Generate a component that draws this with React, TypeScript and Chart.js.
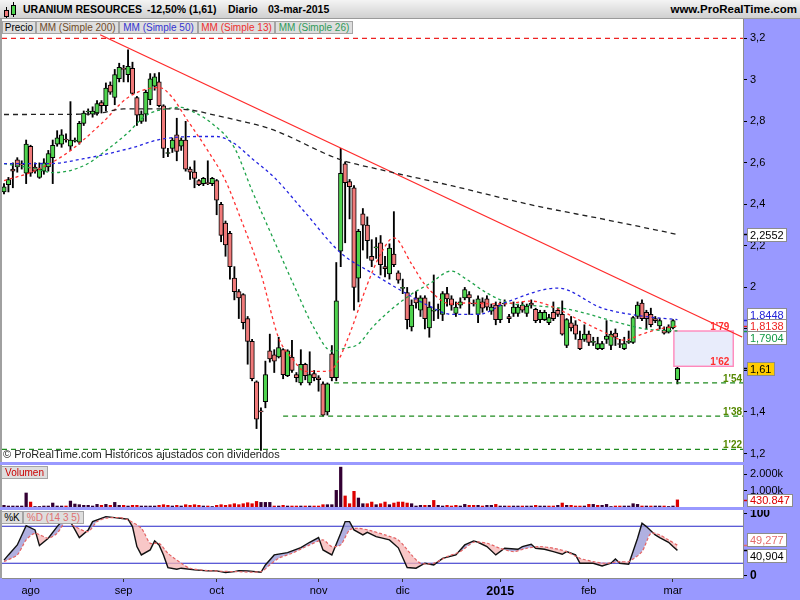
import React, { useEffect, useRef } from "react";
import { Chart, registerables } from "chart.js";

Chart.register(...registerables);

const FONT = '"Liberation Sans", Arial, Helvetica, sans-serif';
Chart.defaults.font.family = FONT;

// ---------------- DATA ----------------
const opens = [
  2.46, 2.495, 2.57, 2.615, 2.595, 2.55, 2.68, 2.58, 2.53, 2.56,
  2.58, 2.625, 2.69, 2.69, 2.715, 2.68, 2.705, 2.70, 2.79, 2.845,
  2.835, 2.84, 2.89, 2.875, 2.975, 2.915, 3.005, 3.055, 3.025, 3.055,
  2.915, 2.80, 2.835, 2.905, 2.97, 2.99, 2.875, 2.645, 2.67, 2.735,
  2.68, 2.71, 2.57, 2.555, 2.515, 2.50, 2.505, 2.50, 2.515, 2.40,
  2.31, 2.26, 2.045, 1.98, 1.965, 1.85, 1.74, 1.545, 1.405, 1.45,
  1.695, 1.675, 1.665, 1.70, 1.575, 1.665, 1.58, 1.54, 1.63, 1.54,
  1.585, 1.565, 1.535, 1.40, 1.68, 1.565, 2.175, 2.595, 2.51, 2.48,
  2.045, 2.355, 2.30, 2.15, 2.19, 2.215, 2.10, 2.065, 2.16, 2.07,
  1.995, 1.975, 1.81, 1.95, 1.89, 1.95, 1.805, 1.885, 1.89, 1.87,
  1.97, 1.945, 1.875, 1.915, 1.95, 1.965, 1.925, 1.87, 1.93, 1.945,
  1.885, 1.915, 1.845, 1.92, 1.86, 1.875, 1.875, 1.915, 1.875, 1.925,
  1.895, 1.845, 1.845, 1.83, 1.88, 1.89, 1.87, 1.72, 1.83, 1.82,
  1.75, 1.75, 1.775, 1.735, 1.705, 1.705, 1.75, 1.72, 1.78, 1.73,
  1.705, 1.735, 1.735, 1.86, 1.925, 1.88, 1.87, 1.85, 1.815, 1.795,
  1.785, 1.805, 1.555,
];
const highs = [
  2.50, 2.53, 2.60, 2.625, 2.61, 2.71, 2.685, 2.60, 2.60, 2.62,
  2.66, 2.71, 2.755, 2.76, 2.74, 2.895, 2.72, 2.80, 2.85, 2.86,
  2.87, 2.90, 2.90, 2.985, 2.99, 3.05, 3.08, 3.07, 3.145, 3.085,
  2.92, 2.85, 2.95, 3.03, 3.03, 3.035, 2.88, 2.67, 2.72, 2.815,
  2.72, 2.80, 2.58, 2.61, 2.52, 2.53, 2.61, 2.53, 2.52, 2.41,
  2.32, 2.27, 2.10, 1.99, 1.97, 1.86, 1.75, 1.55, 1.42, 1.645,
  1.775, 1.70, 1.76, 1.705, 1.70, 1.745, 1.59, 1.70, 1.635, 1.69,
  1.60, 1.575, 1.545, 1.54, 1.72, 2.12, 2.67, 2.605, 2.52, 2.49,
  2.28, 2.38, 2.34, 2.23, 2.24, 2.25, 2.15, 2.21, 2.365, 2.08,
  2.04, 2.00, 1.94, 1.98, 1.96, 1.96, 1.93, 2.06, 1.92, 1.98,
  2.00, 1.96, 1.93, 1.95, 2.00, 1.98, 1.94, 1.96, 1.95, 1.96,
  1.92, 1.93, 1.93, 1.94, 1.87, 1.93, 1.92, 1.93, 1.92, 1.94,
  1.90, 1.89, 1.89, 1.87, 1.93, 1.90, 1.935, 1.85, 1.86, 1.84,
  1.79, 1.82, 1.79, 1.76, 1.76, 1.74, 1.84, 1.79, 1.80, 1.75,
  1.76, 1.79, 1.86, 1.93, 1.94, 1.89, 1.90, 1.86, 1.85, 1.81,
  1.82, 1.845, 1.615,
];
const lows = [
  2.45, 2.46, 2.48, 2.555, 2.57, 2.50, 2.535, 2.55, 2.525, 2.545,
  2.56, 2.50, 2.68, 2.675, 2.70, 2.66, 2.70, 2.69, 2.78, 2.83,
  2.82, 2.83, 2.84, 2.85, 2.93, 2.88, 2.99, 2.99, 2.99, 2.93,
  2.78, 2.79, 2.80, 2.88, 2.95, 2.87, 2.625, 2.63, 2.65, 2.61,
  2.66, 2.56, 2.52, 2.48, 2.49, 2.49, 2.495, 2.49, 2.35, 2.22,
  2.15, 2.04, 1.94, 1.85, 1.80, 1.63, 1.55, 1.32, 1.215, 1.42,
  1.64, 1.59, 1.66, 1.56, 1.57, 1.59, 1.545, 1.53, 1.555, 1.53,
  1.55, 1.50, 1.38, 1.385, 1.55, 1.55, 2.10, 2.215, 2.33, 1.89,
  1.93, 2.18, 2.14, 2.10, 2.14, 2.06, 2.05, 2.04, 2.10, 2.02,
  1.97, 1.80, 1.79, 1.90, 1.86, 1.80, 1.76, 1.84, 1.85, 1.84,
  1.91, 1.89, 1.86, 1.90, 1.94, 1.87, 1.91, 1.83, 1.88, 1.89,
  1.87, 1.82, 1.83, 1.91, 1.83, 1.86, 1.86, 1.88, 1.86, 1.90,
  1.83, 1.83, 1.84, 1.82, 1.84, 1.86, 1.77, 1.71, 1.79, 1.75,
  1.70, 1.74, 1.72, 1.72, 1.70, 1.70, 1.73, 1.70, 1.72, 1.71,
  1.70, 1.73, 1.73, 1.85, 1.84, 1.80, 1.81, 1.83, 1.80, 1.775,
  1.78, 1.80, 1.535,
];
const closes = [
  2.485, 2.52, 2.56, 2.58, 2.59, 2.69, 2.55, 2.56, 2.57, 2.60,
  2.645, 2.685, 2.72, 2.735, 2.71, 2.71, 2.71, 2.79, 2.84, 2.85,
  2.85, 2.885, 2.875, 2.96, 2.94, 3.025, 3.06, 3.05, 3.065, 2.935,
  2.83, 2.835, 2.94, 3.005, 3.015, 2.875, 2.67, 2.65, 2.71, 2.655,
  2.71, 2.57, 2.555, 2.525, 2.495, 2.525, 2.50, 2.525, 2.42, 2.25,
  2.205, 2.10, 1.98, 1.95, 1.83, 1.74, 1.56, 1.365, 1.40, 1.58,
  1.655, 1.645, 1.71, 1.58, 1.695, 1.60, 1.565, 1.63, 1.575, 1.58,
  1.565, 1.555, 1.385, 1.535, 1.565, 1.935, 2.55, 2.505, 2.485, 2.00,
  2.27, 2.30, 2.225, 2.13, 2.195, 2.11, 2.09, 2.19, 2.11, 2.035,
  2.00, 1.845, 1.915, 1.925, 1.95, 1.85, 1.905, 1.89, 1.895, 1.97,
  1.945, 1.915, 1.905, 1.93, 1.99, 1.95, 1.92, 1.945, 1.90, 1.905,
  1.905, 1.845, 1.915, 1.925, 1.85, 1.905, 1.905, 1.89, 1.91, 1.915,
  1.84, 1.88, 1.88, 1.855, 1.85, 1.87, 1.775, 1.845, 1.805, 1.775,
  1.705, 1.775, 1.735, 1.74, 1.73, 1.73, 1.765, 1.775, 1.76, 1.725,
  1.73, 1.74, 1.855, 1.915, 1.85, 1.85, 1.82, 1.84, 1.84, 1.78,
  1.81, 1.84, 1.61,
];
// volume in thousands of shares
const volumesK = [
  100, 60, 60, 60, 60, 850, 300, 30, 30, 60,
  60, 240, 60, 60, 60, 360, 180, 140, 100, 100,
  60, 160, 100, 160, 100, 280, 100, 100, 60, 100,
  100, 60, 60, 60, 60, 100, 140, 100, 60, 100,
  60, 140, 100, 140, 100, 60, 60, 30, 100, 140,
  100, 140, 200, 140, 200, 260, 200, 340, 280, 280,
  280, 60, 60, 100, 60, 60, 60, 60, 60, 60,
  60, 60, 140, 140, 140, 1010, 2420, 670, 200, 950,
  545, 200, 200, 300, 140, 200, 300, 140, 240, 300,
  300, 240, 200, 60, 100, 100, 100, 400, 100, 60,
  100, 60, 100, 60, 160, 100, 100, 100, 60, 100,
  100, 160, 60, 60, 60, 60, 60, 60, 60, 60,
  100, 60, 60, 60, 60, 100, 240, 100, 100, 60,
  60, 60, 160, 160, 100, 100, 160, 30, 60, 60,
  60, 60, 200, 160, 60, 60, 60, 60, 60, 60,
  30, 60, 430.847,
];

// moving averages, sampled along their drawn paths (day index, value)
const ma200Idx = [0, 20, 27, 37, 42, 48, 53, 60, 76, 85, 101, 120, 135, 152];
const ma200 = [2.833, 2.835, 2.86, 2.86, 2.855, 2.828, 2.804, 2.765, 2.615, 2.567, 2.49, 2.393, 2.33, 2.2552];
const ma50Idx = [0, 10, 18, 29, 35, 44, 48, 52, 56, 61, 68, 76, 83, 91, 96, 101, 107, 114, 125, 135, 144, 152];
const ma50 = [2.596, 2.596, 2.62, 2.673, 2.712, 2.727, 2.727, 2.693, 2.62, 2.53, 2.36, 2.166, 2.07, 1.968, 1.91, 1.87, 1.87, 1.934, 1.997, 1.90, 1.862, 1.8448];
const ma13Idx = [0, 7, 14, 22, 28, 35, 38, 41, 46, 50, 53, 58, 62, 65, 68, 73, 75, 78, 82, 85, 88, 92, 95, 101, 104, 112, 119, 125, 129, 135, 140, 144, 148, 152];
const ma13 = [2.514, 2.562, 2.644, 2.789, 2.915, 2.963, 2.915, 2.818, 2.659, 2.514, 2.355, 2.065, 1.756, 1.659, 1.596, 1.596, 1.63, 1.775, 2.014, 2.161, 2.239, 2.113, 2.014, 1.92, 1.925, 1.92, 1.934, 1.896, 1.852, 1.789, 1.746, 1.775, 1.80, 1.8138];
const ma26Idx = [0, 7, 11, 18, 23, 28, 32, 37, 40, 43, 47, 52, 56, 61, 65, 70, 74, 77, 80, 83, 87, 92, 96, 101, 104, 109, 114, 121, 127, 132, 135, 140, 145, 152];
const ma26 = [2.596, 2.572, 2.553, 2.586, 2.659, 2.746, 2.828, 2.862, 2.867, 2.843, 2.789, 2.673, 2.466, 2.224, 2.031, 1.804, 1.693, 1.707, 1.727, 1.804, 1.886, 1.968, 2.017, 2.079, 2.045, 1.973, 1.925, 1.91, 1.896, 1.871, 1.852, 1.823, 1.799, 1.7904];

// drawn trend line and levels
const trendIdx = [21.7, 166.6];
const trendVal = [3.217, 1.761];
const resistanceLevel = 3.2;
const supportLevels = [1.54, 1.38, 1.22];
const supportStartIdx = [74.5, 63, -0.45];
const zoneTop = 1.79;
const zoneBottom = 1.62;
const zoneIdx = [151.2, 164.6];

// stochastic %K / %D (14 3 5), sampled (day index, value)
const kIdx = [0, 1, 3, 5, 7, 8, 10, 12, 14, 15, 17, 19, 20, 23, 25, 28, 29, 30, 31, 33, 34, 35, 36, 37, 39, 40, 43, 46, 48, 50, 52, 53, 55, 58, 59, 61, 64, 67, 69, 71, 72, 74, 76, 77, 78, 79, 81, 82, 84, 87, 89, 91, 93, 95, 97, 99, 102, 104, 106, 107, 109, 111, 113, 116, 117, 119, 120, 122, 124, 126, 127, 129, 130, 133, 135, 137, 138, 139, 141, 143, 144, 145, 147, 148, 150, 151, 152];
const kVal = [25, 33.5, 49.7, 81, 74, 48.6, 60.5, 79.4, 95.6, 87.5, 61.6, 74, 87.5, 95.6, 94, 91.3, 79.4, 47, 33.5, 41.6, 56.2, 49.7, 33.5, 13, 10.3, 12, 9.2, 7.6, 7.6, 4.9, 6.5, 8.1, 7.6, 5.4, 17.3, 33.5, 37.3, 45.4, 54, 61.6, 41.6, 33.5, 68.6, 87.5, 87.5, 74, 65.9, 70.2, 63.2, 57.8, 45, 13, 12, 20, 17.3, 28, 33.5, 49.7, 56.2, 54, 47, 33.5, 44.3, 42.7, 47, 50.8, 44.3, 42.7, 38.9, 34.6, 38.9, 33.5, 20, 20, 15.7, 20, 27, 20, 18.4, 60.5, 84.8, 79.4, 65.9, 61.6, 54, 47, 40.904];
const dIdx = [0, 3, 5, 7, 10, 12, 14, 16, 19, 21, 23, 26, 28, 31, 33, 35, 37, 40, 42, 46, 52, 58, 60, 62, 65, 69, 72, 74, 76, 78, 80, 83, 86, 89, 92, 94, 97, 100, 103, 106, 109, 112, 115, 118, 121, 124, 127, 130, 133, 136, 139, 141, 144, 146, 148, 150, 152];
const dVal = [22.7, 33.5, 57.8, 68.6, 60.5, 68.6, 87.5, 79.4, 71.3, 87.5, 92.9, 94, 90.2, 76.7, 52.4, 52.4, 36.2, 20, 11.9, 8.1, 6.5, 6.5, 17.3, 28, 36.2, 49.7, 57.8, 47, 49.7, 74, 76.7, 72.4, 65.9, 57.8, 33.5, 20, 20, 30.8, 38.9, 54, 52.4, 44.3, 38.9, 44.3, 47, 44.3, 38.9, 28, 22.7, 20, 22.7, 22.7, 38.9, 68.6, 65.9, 57.8, 49.277];
const stochBands = [80, 20];

// axis ticks
const priceTicks = [1.2, 1.4, 1.6, 1.8, 2.0, 2.2, 2.4, 2.6, 2.8, 3.0, 3.2];
const priceTickLabels = ["1,2", "1,4", "1,6", "1,8", "2", "2,2", "2,4", "2,6", "2,8", "3", "3,2"];
const volTicks = [1000, 2000];
const volTickLabels = ["1.000k", "2.000k"];
const stochTicks = [0, 100];
const stochTickLabels = ["0", "100"];
const monthIdx = [6, 27, 48, 71, 90, 112, 132, 151];
const monthLabels = ["ago", "sep", "oct", "nov", "dic", "2015", "feb", "mar"];

// ---------------- helpers ----------------
const X_MIN = -0.45;
const X_MAX = 166.8;
const PRICE_MIN = 1.159;
const PRICE_MAX = 3.293;
const VOL_MAX = 2550;
const STOCH_MIN = -3.9;
const STOCH_MAX = 106.3;

const GREEN = "#4fd44f";
const RED = "#f07a7a";

const days = opens.map((_, i) => i);
const pts = (xs: number[], ys: number[]) => xs.map((x, j) => ({ x, y: ys[j] }));
const last = (a: number[]) => a[a.length - 1];
const fmtComma = (v: number, d: number) => v.toFixed(d).replace(".", ",");
const fmtThousands = (v: number) =>
  Math.round(v).toString().replace(/\B(?=(\d{3})+(?!\d))/g, ".");

type Marker = { v: number; text: string; color: string; bg: string; tick: string };

function drawMarkers(chart: any, axisId: string, markers: Marker[], gap: number, boxH: number, font: string) {
  const ctx = chart.ctx;
  const sc = chart.scales[axisId];
  const items = markers.map((m) => {
    const y0 = sc.getPixelForValue(m.v);
    return { ...m, y0, y: y0 };
  });
  const sorted = [...items].sort((a, b) => a.y0 - b.y0);
  for (let pass = 0; pass < 8; pass++) {
    const clusters: any[][] = [];
    for (const it of sorted) {
      const lc = clusters[clusters.length - 1];
      if (lc && it.y - lc[lc.length - 1].y < gap - 0.01) lc.push(it);
      else clusters.push([it]);
    }
    let moved = false;
    for (const cl of clusters) {
      if (cl.length < 2) continue;
      const mean = cl.reduce((s: number, it: any) => s + it.y0, 0) / cl.length;
      cl.forEach((it: any, k: number) => {
        const ny = mean + (k - (cl.length - 1) / 2) * gap;
        if (Math.abs(ny - it.y) > 0.01) {
          it.y = ny;
          moved = true;
        }
      });
    }
    if (!moved) break;
  }
  ctx.save();
  ctx.font = font;
  ctx.textBaseline = "middle";
  const left = sc.left;
  for (const it of items) {
    ctx.strokeStyle = it.tick;
    ctx.lineWidth = 1.5;
    ctx.beginPath();
    ctx.moveTo(left + 1, Math.round(it.y0) + 0.5);
    ctx.lineTo(left + 6, Math.round(it.y0) + 0.5);
    ctx.stroke();
  }
  for (const it of items) {
    const w = Math.ceil(ctx.measureText(it.text).width) + 5;
    const bx = Math.round(left + 4) + 0.5;
    const by = Math.round(it.y - boxH / 2) + 0.5;
    ctx.fillStyle = it.bg;
    ctx.fillRect(bx, by, w, boxH);
    ctx.strokeStyle = "#8c8c8c";
    ctx.lineWidth = 1;
    ctx.strokeRect(bx, by, w, boxH);
    ctx.fillStyle = it.color;
    ctx.fillText(it.text, bx + 2.5, by + boxH / 2 + 0.5);
  }
  ctx.restore();
}

const panelBg = {
  id: "panelBg",
  beforeDraw(chart: any) {
    const { ctx, chartArea: a } = chart;
    ctx.save();
    ctx.fillStyle = "#ffffff";
    ctx.fillRect(a.left, a.top, a.right - a.left, a.bottom - a.top);
    ctx.fillStyle = "#a0a0a0";
    ctx.fillRect(0, a.top, a.left, a.bottom - a.top);
    ctx.restore();
  },
};

const hiddenX = {
  type: "linear",
  min: X_MIN,
  max: X_MAX,
  offset: false,
  display: false,
  afterFit: (s: any) => {
    s.paddingLeft = 0;
    s.paddingRight = 0;
  },
};

function rightAxis(min: number, max: number, ticks: number[], labels: string[], font: any) {
  return {
    position: "right",
    min,
    max,
    afterBuildTicks: (s: any) => {
      s.ticks = ticks.map((v) => ({ value: v }));
    },
    ticks: {
      autoSkip: false,
      callback: (_v: any, i: number) => labels[i],
      font,
      color: "#000",
      padding: 3,
    },
    grid: { drawOnChartArea: false, tickLength: 4, color: "#000" },
    border: { color: "#8c8c8c" },
    afterFit: (s: any) => {
      s.width = 57;
      s.paddingTop = 0;
      s.paddingBottom = 0;
    },
  };
}

const baseOptions = {
  animation: false,
  responsive: false,
  maintainAspectRatio: false,
  devicePixelRatio: 1,
  events: [],
  layout: { padding: { left: 2, right: 0, top: 0, bottom: 0 }, autoPadding: false },
  plugins: { legend: { display: false }, tooltip: { enabled: false } },
};

const maLine = (idx: number[], vals: number[], color: string, dash: number[]) => ({
  type: "line",
  data: pts(idx, vals),
  borderColor: color,
  borderWidth: 1.3,
  borderDash: dash,
  pointRadius: 0,
  cubicInterpolationMode: "monotone",
  fill: false,
  order: 1,
});

function mainConfig() {
  const levelLine = (startIdx: number, v: number, color: string) => ({
    type: "line",
    data: [
      { x: startIdx, y: v },
      { x: X_MAX, y: v },
    ],
    borderColor: color,
    borderWidth: 1.3,
    borderDash: [5, 4],
    pointRadius: 0,
    fill: false,
    order: 2,
  });
  const annotations = {
    id: "mainAnn",
    beforeDatasetsDraw(chart: any) {
      const { ctx, scales } = chart;
      const x = scales.x;
      const y = scales.y;
      const x0 = x.getPixelForValue(zoneIdx[0]);
      const x1 = x.getPixelForValue(zoneIdx[1]);
      const y0 = y.getPixelForValue(zoneTop);
      const y1 = y.getPixelForValue(zoneBottom);
      ctx.save();
      ctx.fillStyle = "#e8ecfb";
      ctx.fillRect(x0, y0, x1 - x0, y1 - y0);
      ctx.strokeStyle = "#ff88bb";
      ctx.lineWidth = 1.4;
      ctx.strokeRect(x0, y0, x1 - x0, y1 - y0);
      ctx.restore();
    },
    afterDatasetsDraw(chart: any) {
      const { ctx, scales, chartArea } = chart;
      const x = scales.x;
      const y = scales.y;
      ctx.save();
      ctx.font = `bold 10px ${FONT}`;
      ctx.textAlign = "right";
      ctx.textBaseline = "alphabetic";
      const zx = x.getPixelForValue(zoneIdx[1]) - 4;
      ctx.fillStyle = "#ff3030";
      [zoneTop, zoneBottom].forEach((v) => {
        ctx.fillText(v.toFixed(2).replace(".", "'"), zx, y.getPixelForValue(v) - 1);
      });
      ctx.fillStyle = "#558800";
      supportLevels.forEach((v) => {
        ctx.fillText(v.toFixed(2).replace(".", "'"), chartArea.right - 1, y.getPixelForValue(v) - 1);
      });
      ctx.restore();
    },
    afterDraw(chart: any) {
      const markers: Marker[] = [
        { v: last(ma200), text: fmtComma(last(ma200), 4), color: "#000", bg: "#fff", tick: "#000" },
        { v: last(ma50), text: fmtComma(last(ma50), 4), color: "#2323d8", bg: "#fff", tick: "#2323d8" },
        { v: last(ma13), text: fmtComma(last(ma13), 4), color: "#ee2222", bg: "#fff", tick: "#ee2222" },
        { v: last(ma26), text: fmtComma(last(ma26), 4), color: "#119944", bg: "#fff", tick: "#119944" },
        { v: last(closes), text: fmtComma(last(closes), 2), color: "#000", bg: "#ffcc00", tick: "#000" },
      ];
      drawMarkers(chart, "y", markers, 11.5, 13, `11px ${FONT}`);
    },
  };
  return {
    type: "bar",
    data: {
      datasets: [
        maLine(ma200Idx, ma200, "#222222", [5, 4]),
        maLine(ma50Idx, ma50, "#2323e0", [3, 3]),
        maLine(ma13Idx, ma13, "#ff3030", [3, 3]),
        maLine(ma26Idx, ma26, "#1fa34a", [3, 3]),
        {
          type: "line",
          data: pts(trendIdx, trendVal),
          borderColor: "#ff2a2a",
          borderWidth: 1.3,
          pointRadius: 0,
          fill: false,
          order: 1,
        },
        levelLine(X_MIN, resistanceLevel, "#ee2222"),
        ...supportLevels.map((v, j) => levelLine(supportStartIdx[j], v, "#1f8a1f")),
        {
          type: "bar",
          data: days.map((i) => ({ x: i, y: [lows[i], highs[i]] })),
          backgroundColor: "#000",
          barThickness: 1.2,
          grouped: false,
          order: 6,
        },
        {
          type: "bar",
          data: days.map((i) => ({ x: i, y: [opens[i], closes[i]] })),
          backgroundColor: days.map((i) => (closes[i] >= opens[i] ? GREEN : RED)),
          borderColor: "#000",
          borderWidth: 1,
          borderSkipped: false,
          barThickness: 4.5,
          grouped: false,
          order: 5,
        },
      ],
    },
    options: {
      ...baseOptions,
      scales: {
        x: hiddenX,
        y: rightAxis(PRICE_MIN, PRICE_MAX, priceTicks, priceTickLabels, { size: 11, family: FONT }),
      },
    },
    plugins: [panelBg, annotations],
  };
}

function volumeConfig() {
  const ann = {
    id: "volAnn",
    afterDraw(chart: any) {
      const v = last(volumesK);
      drawMarkers(
        chart,
        "y",
        [{ v, text: fmtThousands(v * 1000), color: "#dd0000", bg: "#fff", tick: "#dd0000" }],
        12,
        12,
        `11px ${FONT}`
      );
    },
  };
  return {
    type: "bar",
    data: {
      datasets: [
        {
          data: days.map((i) => ({ x: i, y: volumesK[i] })),
          backgroundColor: days.map((i) =>
            (i === 0 ? closes[0] >= opens[0] : closes[i] >= closes[i - 1]) ? "#330033" : "#dd0000"
          ),
          barThickness: 2.6,
          grouped: false,
        },
      ],
    },
    options: {
      ...baseOptions,
      scales: {
        x: hiddenX,
        y: rightAxis(0, VOL_MAX, volTicks, volTickLabels, { size: 11, family: FONT }),
      },
    },
    plugins: [panelBg, ann],
  };
}

function stochConfig() {
  const ann = {
    id: "stoAnn",
    afterDraw(chart: any) {
      drawMarkers(
        chart,
        "y",
        [
          { v: last(dVal), text: fmtComma(last(dVal), 3), color: "#e46a6a", bg: "#fff", tick: "#e46a6a" },
          { v: last(kVal), text: fmtComma(last(kVal), 3), color: "#000", bg: "#fff", tick: "#000" },
        ],
        16,
        13,
        `11px ${FONT}`
      );
    },
  };
  return {
    type: "line",
    data: {
      datasets: [
        {
          data: pts(dIdx, dVal),
          borderColor: "#e46464",
          borderWidth: 1.2,
          borderDash: [3, 2],
          pointRadius: 0,
          tension: 0.25,
          fill: false,
        },
        {
          data: pts(kIdx, kVal),
          borderColor: "#111111",
          borderWidth: 1.4,
          pointRadius: 0,
          tension: 0,
          fill: { target: 0, above: "rgba(150,150,214,0.75)", below: "rgba(245,180,180,0.75)" },
        },
        ...stochBands.map((b) => ({
          data: [
            { x: X_MIN, y: b },
            { x: X_MAX, y: b },
          ],
          borderColor: "#2626c8",
          borderWidth: 1.2,
          pointRadius: 0,
          fill: false,
        })),
      ],
    },
    options: {
      ...baseOptions,
      scales: {
        x: {
          type: "linear",
          min: X_MIN,
          max: X_MAX,
          offset: false,
          position: "bottom",
          afterBuildTicks: (s: any) => {
            s.ticks = monthIdx.map((v) => ({ value: v }));
          },
          ticks: {
            autoSkip: false,
            maxRotation: 0,
            padding: 2,
            color: "#000",
            callback: (_v: any, i: number) => monthLabels[i],
            font: (c: any) =>
              monthLabels[c.index] === "2015"
                ? { family: FONT, size: 12.5, weight: "bold" }
                : { family: FONT, size: 11 },
          },
          grid: { drawOnChartArea: false, tickLength: 4, color: "#333" },
          border: { color: "#8c8c8c" },
          afterFit: (s: any) => {
            s.height = 22;
            s.paddingLeft = 0;
            s.paddingRight = 0;
          },
        },
        y: rightAxis(STOCH_MIN, STOCH_MAX, stochTicks, stochTickLabels, {
          size: 12,
          family: FONT,
          weight: "bold",
        }),
      },
    },
    plugins: [panelBg, ann],
  };
}

// ---------------- component ----------------
const legendBox = (left: number, top: number, width: number, text: string, color: string) => (
  <div
    key={text}
    style={{
      position: "absolute",
      left,
      top,
      width,
      height: 13,
      boxSizing: "border-box",
      border: "1px solid #a4a4a4",
      background: "#dedede",
      color,
      fontSize: 10,
      lineHeight: "11px",
      textAlign: "center",
      whiteSpace: "nowrap",
      overflow: "hidden",
    }}
  >
    {text}
  </div>
);

export default function App() {
  const mainRef = useRef<HTMLCanvasElement>(null);
  const volRef = useRef<HTMLCanvasElement>(null);
  const stoRef = useRef<HTMLCanvasElement>(null);

  useEffect(() => {
    const charts: any[] = [];
    if (mainRef.current) charts.push(new Chart(mainRef.current, mainConfig() as any));
    if (volRef.current) charts.push(new Chart(volRef.current, volumeConfig() as any));
    if (stoRef.current) charts.push(new Chart(stoRef.current, stochConfig() as any));
    return () => charts.forEach((c) => c.destroy());
  }, []);

  const titleStyle: any = {
    position: "absolute",
    top: 3,
    fontSize: 10.5,
    fontWeight: "bold",
    lineHeight: "13px",
    color: "#000",
    whiteSpace: "nowrap",
  };

  return (
    <div
      style={{
        position: "fixed",
        left: 0,
        top: 0,
        width: 800,
        height: 600,
        background: "#9999ff",
        overflow: "hidden",
        fontFamily: FONT,
      }}
    >
      <canvas ref={mainRef} width={800} height={443} style={{ position: "absolute", left: 0, top: 19, display: "block" }} />
      <canvas ref={volRef} width={800} height={42} style={{ position: "absolute", left: 0, top: 465, display: "block" }} />
      <canvas ref={stoRef} width={800} height={90} style={{ position: "absolute", left: 0, top: 510, display: "block" }} />

      {/* header */}
      <div
        style={{
          position: "absolute",
          left: 0,
          top: 0,
          width: 800,
          height: 19,
          boxSizing: "border-box",
          background: "linear-gradient(#f4f4f4, #d0d0d0)",
          borderBottom: "1px solid #9a9a9a",
        }}
      >
        <div style={{ position: "absolute", left: 6, top: 7, width: 1, height: 11, background: "#000" }} />
        <div style={{ position: "absolute", left: 4, top: 10, width: 5, height: 7, boxSizing: "border-box", background: RED, border: "1px solid #000" }} />
        <div style={{ position: "absolute", left: 13, top: 2, width: 1, height: 15, background: "#000" }} />
        <div style={{ position: "absolute", left: 11, top: 5, width: 5, height: 10, boxSizing: "border-box", background: GREEN, border: "1px solid #000" }} />
        <span style={{ ...titleStyle, left: 23 }}>URANIUM RESOURCES</span>
        <span style={{ ...titleStyle, left: 147 }}>-12,50% (1,61)</span>
        <span style={{ ...titleStyle, left: 228 }}>Diario</span>
        <span style={{ ...titleStyle, left: 268 }}>03-mar-2015</span>
        <span style={{ ...titleStyle, right: 3, fontSize: 11.5 }}>www.ProRealTime.com</span>
      </div>

      {/* main legend */}
      {legendBox(2, 21, 34, "Precio", "#000")}
      {legendBox(36, 21, 83, "MM (Simple 200)", "#6e4a28")}
      {legendBox(119, 21, 79, "MM (Simple 50)", "#3434d0")}
      {legendBox(198, 21, 77, "MM (Simple 13)", "#ee2e2e")}
      {legendBox(275, 21, 78, "MM (Simple 26)", "#2f9a58")}

      <div
        style={{
          position: "absolute",
          left: 3,
          top: 448,
          fontSize: 11,
          lineHeight: "13px",
          color: "#222",
          whiteSpace: "nowrap",
        }}
      >
        © ProRealTime.com Históricos ajustados con dividendos
      </div>

      {legendBox(1, 466, 47, "Volumen", "#cc0000")}
      {legendBox(1, 511, 22, "%K", "#000")}
      {legendBox(23, 511, 61, "%D (14 3 5)", "#e07070")}
    </div>
  );
}
